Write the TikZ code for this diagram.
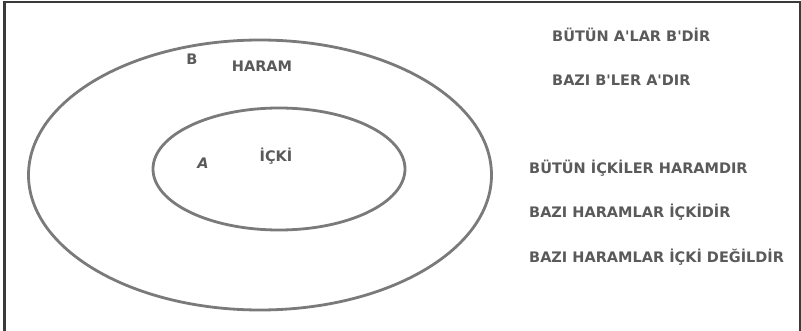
\documentclass[tikz,border=0pt]{standalone}
\usepackage{fontspec}
\newfontfamily\dvsans{DejaVu Sans}
\definecolor{txtgray}{HTML}{5A5A5A}
\definecolor{ringgray}{HTML}{7A7A7A}
\definecolor{framegray}{HTML}{3A3A3A}
\begin{document}
\begin{tikzpicture}[x=1pt,y=-1pt,
  ring/.style={draw=ringgray,line width=2.8pt},
  lbl/.style={text=txtgray,font=\dvsans\bfseries\fontsize{14.5}{17}\selectfont,inner sep=0pt},
  stmt/.style={lbl,anchor=west}]
\useasboundingbox (0,0) rectangle (801,331);
\fill[white] (0,0) rectangle (801,331);
\draw[framegray,line width=2.5pt] (4.5,331) -- (4.5,2) -- (800,2) -- (800,331);
\draw[ring] (260,175) ellipse [x radius=231.5pt, y radius=135pt];
\draw[ring] (279,169) ellipse [x radius=126pt, y radius=61pt];
\node[lbl] (b) at (192,59) {B};
\node[lbl] (haram) at (262,66) {HARAM};
\node[lbl,font=\dvsans\bfseries\itshape\fontsize{14.5}{17}\selectfont] (a) at (203,163) {A};
\node[lbl] (icki) at (276,156) {İÇKİ};
\node[stmt] (s1) at (552,35) {BÜTÜN A'LAR B'DİR};
\node[stmt] (s2) at (552,80) {BAZI B'LER A'DIR};
\node[stmt] (s3) at (529,168) {BÜTÜN İÇKİLER HARAMDIR};
\node[stmt] (s4) at (529,212) {BAZI HARAMLAR İÇKİDİR};
\node[stmt] (s5) at (529,257) {BAZI HARAMLAR İÇKİ DEĞİLDİR};
\end{tikzpicture}
\end{document}
